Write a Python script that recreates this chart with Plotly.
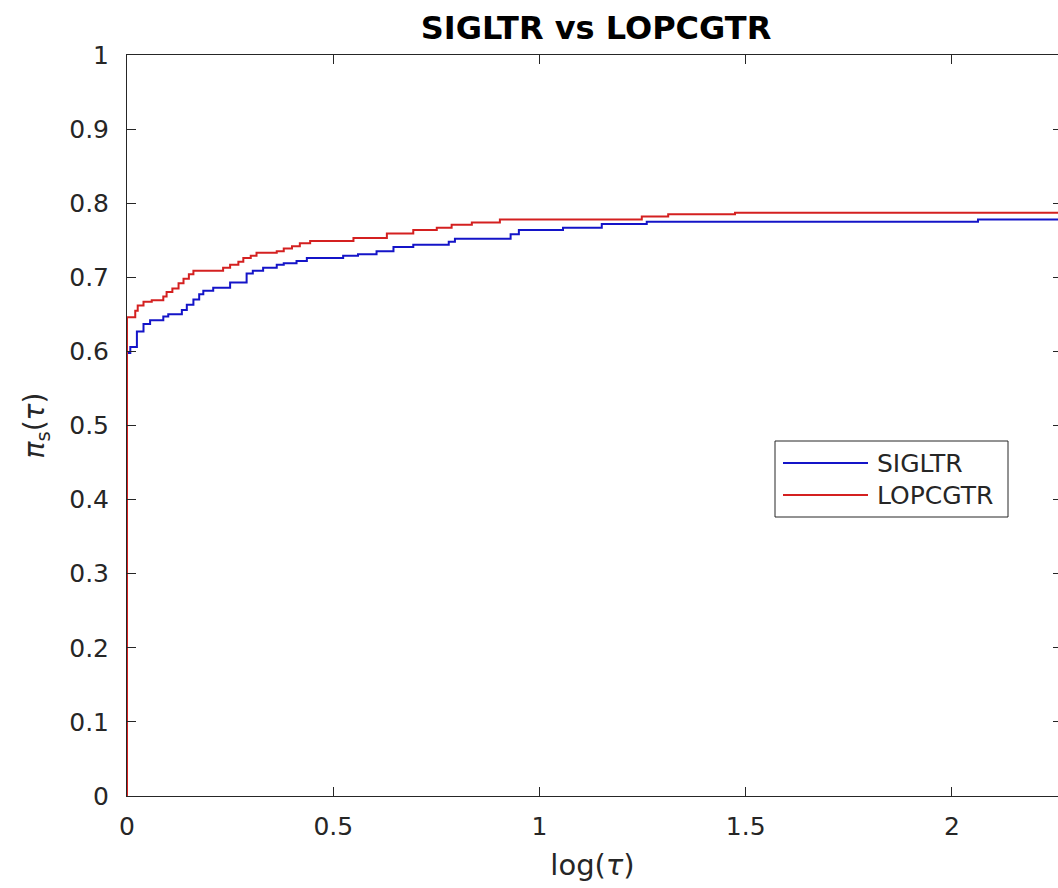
import plotly.graph_objects as go

# Performance profile data (log(tau), fraction)
siglt_x = [0, 0, 0.008, 0.024, 0.04, 0.056, 0.088, 0.1, 0.133, 0.145, 0.161, 0.175, 0.185,
           0.209, 0.25, 0.29, 0.305, 0.33, 0.363, 0.38, 0.411, 0.436, 0.524, 0.56, 0.605,
           0.646, 0.694, 0.78, 0.795, 0.93, 0.95, 1.057, 1.151, 1.26, 2.063, 2.27]
siglt_y = [0, 0.598, 0.606, 0.627, 0.637, 0.642, 0.647, 0.650, 0.656, 0.663, 0.670, 0.677, 0.682,
           0.686, 0.693, 0.705, 0.709, 0.713, 0.717, 0.719, 0.722, 0.726, 0.729, 0.731, 0.735,
           0.741, 0.744, 0.748, 0.752, 0.758, 0.764, 0.767, 0.772, 0.775, 0.778, 0.778]

lopc_x = [0, 0, 0.02, 0.026, 0.04, 0.06, 0.088, 0.096, 0.11, 0.125, 0.137, 0.15, 0.161, 0.233,
          0.25, 0.27, 0.282, 0.3, 0.314, 0.363, 0.38, 0.4, 0.419, 0.444, 0.549, 0.63, 0.694,
          0.751, 0.787, 0.836, 0.904, 1.248, 1.312, 1.474, 2.27]
lopc_y = [0, 0.646, 0.655, 0.662, 0.667, 0.669, 0.674, 0.680, 0.685, 0.692, 0.698, 0.704, 0.709, 0.713,
          0.717, 0.721, 0.726, 0.729, 0.733, 0.735, 0.739, 0.742, 0.746, 0.749, 0.753, 0.759, 0.764,
          0.767, 0.771, 0.774, 0.778, 0.782, 0.785, 0.787, 0.787]

series_names = ["SIGLTR", "LOPCGTR"]
series_colors = ["#1414c8", "#d42020"]

x_ticks = [0, 0.5, 1, 1.5, 2]
x_tick_labels = ["0", "0.5", "1", "1.5", "2"]
y_ticks = [0, 0.1, 0.2, 0.3, 0.4, 0.5, 0.6, 0.7, 0.8, 0.9, 1]
y_tick_labels = ["0", "0.1", "0.2", "0.3", "0.4", "0.5", "0.6", "0.7", "0.8", "0.9", "1"]

AX = "#262626"
FONT = "DejaVu Sans"

# plot-area geometry (pixels)
W, H = 1058, 888
L, R, T, B = 127, 1058, 55, 796


def px(xp):
    return (xp - L) / (R - L)


def py(yp):
    return (B - yp) / (B - T)


fig = go.Figure()
for xs, ys, nm, col in [(siglt_x, siglt_y, series_names[0], series_colors[0]),
                        (lopc_x, lopc_y, series_names[1], series_colors[1])]:
    fig.add_trace(go.Scatter(x=xs, y=ys, mode="lines", name=nm, showlegend=False,
                             line=dict(color=col, width=2, shape="hv")))
# invisible trace for right-side ticks
fig.add_trace(go.Scatter(x=[0], y=[0], yaxis="y2", mode="markers", showlegend=False,
                         marker=dict(opacity=0), hoverinfo="skip"))

# legend box (MATLAB style, long line samples)
shapes = [dict(type="rect", xref="paper", yref="paper",
               x0=px(775), x1=px(1008), y0=py(517), y1=py(441),
               line=dict(color=AX, width=1), fillcolor="white", layer="above")]
annotations = []
for i, (nm, col) in enumerate(zip(series_names, series_colors)):
    yy = 463 + 32 * i
    shapes.append(dict(type="line", xref="paper", yref="paper",
                       x0=px(783), x1=px(868), y0=py(yy), y1=py(yy),
                       line=dict(color=col, width=2), layer="above"))
    annotations.append(dict(text=nm, xref="paper", yref="paper", x=px(875), y=py(yy),
                            xanchor="left", yanchor="middle", showarrow=False,
                            font=dict(family=FONT, size=25, color=AX)))

fig.update_layout(
    width=W, height=H,
    margin=dict(l=L, r=W - R, t=T, b=H - B),
    paper_bgcolor="white", plot_bgcolor="white",
    font=dict(family=FONT, color=AX, size=25),
    title=dict(text="<b>SIGLTR vs LOPCGTR</b>", x=596 / W, xanchor="center",
               y=1 - 28 / H, yanchor="middle", yref="container",
               font=dict(family=FONT, size=32, color="black")),
    xaxis=dict(range=[0, 2.257], tickvals=x_ticks, ticktext=x_tick_labels,
               showline=True, linecolor=AX, linewidth=1, mirror="ticks",
               ticks="inside", ticklen=9, tickcolor=AX, showgrid=False, zeroline=False,
               tickfont=dict(size=25, color=AX), ticklabelstandoff=8,
               title=dict(text="log(<i>τ</i>)", font=dict(size=29, color=AX), standoff=14)),
    yaxis=dict(range=[0, 1], tickvals=y_ticks, ticktext=y_tick_labels,
               showline=True, linecolor=AX, linewidth=1,
               ticks="inside", ticklen=9, tickcolor=AX, showgrid=False, zeroline=False,
               tickfont=dict(size=25, color=AX), ticklabelstandoff=12,
               title=dict(text="<i>π</i><sub>s</sub>(<i>τ</i>)", font=dict(size=28, color=AX), standoff=16)),
    yaxis2=dict(range=[0, 1], tickvals=y_ticks, overlaying="y", side="right",
                showline=False, ticks="inside", ticklen=5, tickcolor=AX,
                showticklabels=False, showgrid=False, zeroline=False),
    shapes=shapes,
    annotations=annotations,
    showlegend=False,
)

fig.write_html("out.html")
